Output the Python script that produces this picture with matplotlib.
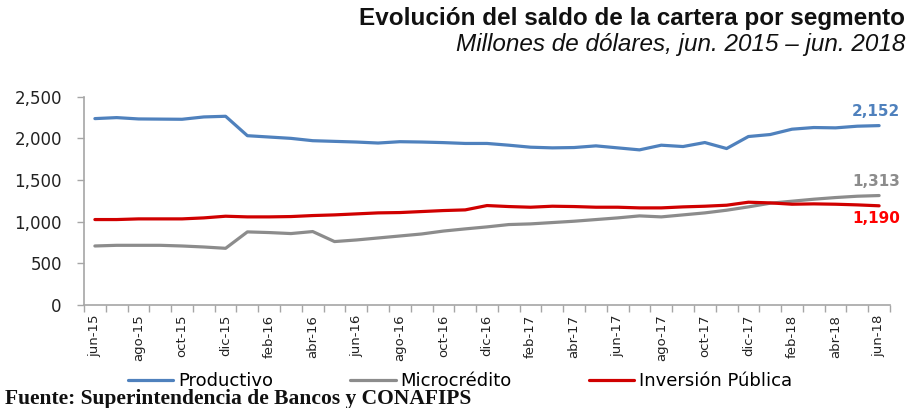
import matplotlib
matplotlib.use("Agg")
import matplotlib.pyplot as plt
import numpy as np

# monthly, jun-15 .. jun-18
months = ["jun-15", "jul-15", "ago-15", "sep-15", "oct-15", "nov-15", "dic-15",
          "ene-16", "feb-16", "mar-16", "abr-16", "may-16", "jun-16", "jul-16",
          "ago-16", "sep-16", "oct-16", "nov-16", "dic-16", "ene-17", "feb-17",
          "mar-17", "abr-17", "may-17", "jun-17", "jul-17", "ago-17", "sep-17",
          "oct-17", "nov-17", "dic-17", "ene-18", "feb-18", "mar-18", "abr-18",
          "may-18", "jun-18"]

productivo = [2236, 2248, 2232, 2230, 2228, 2256, 2264, 2031, 2015, 1999,
              1971, 1963, 1955, 1943, 1959, 1955, 1948, 1938, 1938, 1917,
              1893, 1885, 1889, 1909, 1885, 1861, 1917, 1901, 1949, 1877,
              2021, 2045, 2109, 2129, 2125, 2145, 2152]
microcredito = [708, 716, 716, 716, 708, 696, 680, 877, 869, 857,
                881, 761, 780, 804, 828, 852, 887, 913, 937, 965,
                973, 989, 1005, 1025, 1045, 1069, 1057, 1081, 1105, 1137,
                1177, 1221, 1245, 1269, 1289, 1305, 1313]
inversion = [1025, 1025, 1033, 1033, 1033, 1045, 1065, 1057, 1057, 1061,
             1073, 1081, 1093, 1105, 1109, 1121, 1133, 1141, 1193, 1181,
             1173, 1185, 1181, 1173, 1173, 1165, 1165, 1177, 1185, 1197,
             1233, 1225, 1209, 1213, 1209, 1201, 1190]

c_prod = "#4F81BD"
c_micro = "#8C8C8C"
c_inv = "#D00000"

fig = plt.figure(figsize=(9.08, 4.08), dpi=100)
ax = fig.add_axes([84/908, 103/408, (890-84)/908, 208.4/408])

x = np.arange(len(months))
l1, = ax.plot(x, productivo, color=c_prod, lw=2.3, solid_capstyle="round")
l2, = ax.plot(x, microcredito, color=c_micro, lw=2.3, solid_capstyle="round")
l3, = ax.plot(x, inversion, color=c_inv, lw=2.3, solid_capstyle="round")

ax.set_xlim(-0.5, len(months) - 0.5)
ax.set_ylim(0, 2500)
ax.set_yticks(np.arange(0, 2501, 500))
ax.set_yticklabels(["{:,}".format(v) for v in range(0, 2501, 500)],
                   fontsize=12, color="#222222")
ax.set_xticks(x[::2])
ax.set_xticklabels(months[::2], rotation=90, fontsize=9.5, color="#222222")
ax.set_xticks(np.arange(-0.5, len(months), 1), minor=True)
ax.tick_params(axis="x", which="major", length=0, pad=7)
ax.tick_params(axis="x", which="minor", length=5, color="#A6A6A6", width=1)
ax.tick_params(axis="y", length=5, color="#A6A6A6", width=1, pad=11)

for s in ["top", "right"]:
    ax.spines[s].set_visible(False)
for s in ["left", "bottom"]:
    ax.spines[s].set_color("#A6A6A6")
    ax.spines[s].set_linewidth(1.2)

# end labels
ax.annotate("{:,}".format(productivo[-1]), (x[-1], productivo[-1]),
            xytext=(-2, 10), textcoords="offset points", ha="center", va="center",
            fontsize=11, fontweight="bold", color=c_prod, annotation_clip=False)
ax.annotate("{:,}".format(microcredito[-1]), (x[-1], microcredito[-1]),
            xytext=(-2, 10), textcoords="offset points", ha="center", va="center",
            fontsize=11, fontweight="bold", color="#8C8C8C", annotation_clip=False)
ax.annotate("{:,}".format(inversion[-1]), (x[-1], inversion[-1]),
            xytext=(-2, -9), textcoords="offset points", ha="center", va="center",
            fontsize=11, fontweight="bold", color="#FF0000", annotation_clip=False)

# titles
fig.text(905/908, 1 - 18/408, "Evolución del saldo de la cartera por segmento",
         ha="right", va="center", fontsize=17.5, fontweight="bold",
         family="Liberation Sans", color="#111111")
fig.text(905/908, 1 - 45/408, "Millones de dólares, jun. 2015 \u2013 jun. 2018",
         ha="right", va="center", fontsize=17.5, style="italic",
         family="Liberation Sans", color="#111111")

fig.legend([l1, l2, l3], ["Productivo", "Microcrédito", "Inversión Pública"],
           loc="center", bbox_to_anchor=(460/908, 1 - 381/408), ncol=3,
           frameon=False, handlelength=2.5, handletextpad=0.25,
           columnspacing=4.3, prop={"family": "DejaVu Sans", "size": 13})

fig.text(5/908, 4/408, "Fuente: Superintendencia de Bancos y CONAFIPS",
         ha="left", va="baseline", fontsize=15.5, fontweight="bold",
         family="Liberation Serif", color="#111111")

fig.savefig("out.png", dpi=100)
